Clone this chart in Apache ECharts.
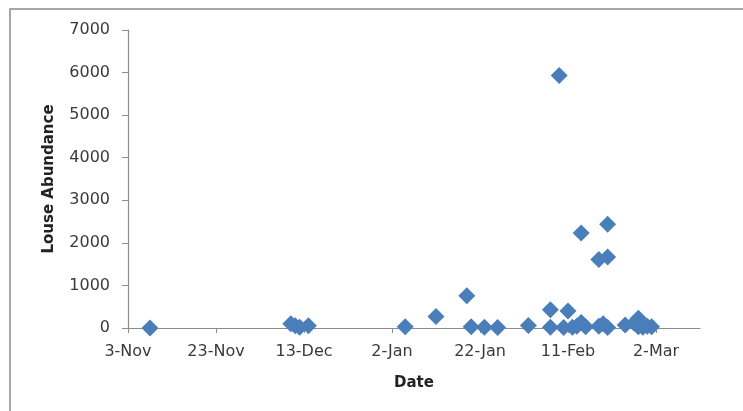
<!DOCTYPE html>
<html>
<head>
<meta charset="utf-8">
<script src="https://cdn.jsdelivr.net/npm/echarts@6/dist/echarts.min.js"></script>
<style>
  html, body { margin: 0; padding: 0; background: #fff; }
  #chart { width: 743px; height: 411px; }
</style>
</head>
<body>
<div id="chart"></div>
<script>
// sampling dates and louse counts
var startDate = '2010-11-03';
var sampleDates = [
  '2010-11-08',
  '2010-12-10', '2010-12-11', '2010-12-12', '2010-12-14',
  '2011-01-05', '2011-01-12', '2011-01-19', '2011-01-20', '2011-01-23', '2011-01-26',
  '2011-02-02', '2011-02-07', '2011-02-07', '2011-02-09', '2011-02-10', '2011-02-11',
  '2011-02-12', '2011-02-13', '2011-02-14', '2011-02-14', '2011-02-15',
  '2011-02-18', '2011-02-18', '2011-02-19', '2011-02-20', '2011-02-20', '2011-02-20',
  '2011-02-24', '2011-02-26', '2011-02-27', '2011-02-27', '2011-02-28', '2011-03-01', '2011-03-02'
];
var louseCounts = [
  0,
  100, 50, 20, 50,
  30, 270, 760, 30, 20, 10,
  60, 430, 20, 5930, 10, 400,
  20, 40, 2230, 130, 30,
  1610, 40, 100, 2440, 1670, 10,
  70, 120, 230, 30, 20, 40, 30
];
var tickLabels = ['3-Nov', '23-Nov', '13-Dec', '2-Jan', '22-Jan', '11-Feb', '2-Mar'];

var DAY = 24 * 3600 * 1000;
function dayOffset(d) {
  return Math.round((Date.parse(d) - Date.parse(startDate)) / DAY);
}

var points = sampleDates.map(function (d, i) {
  return [dayOffset(d), louseCounts[i]];
});

var chart = echarts.init(document.getElementById('chart'));
var axisColor = '#8c8c8c';
var textColor = '#3a3a3a';

chart.setOption({
  animation: false,
  textStyle: { fontFamily: 'DejaVu Sans' },
  graphic: [{
    type: 'rect',
    shape: { x: 10, y: 9, width: 800, height: 450 },
    style: { fill: 'none', stroke: '#8a8a8a', lineWidth: 1.5 },
    silent: true
  }],
  grid: { left: 128, right: 43, top: 30, bottom: 83 },
  xAxis: {
    type: 'value',
    min: 0,
    max: 130,
    interval: 20,
    name: 'Date',
    nameLocation: 'middle',
    nameGap: 48,
    nameTextStyle: { fontSize: 15, fontWeight: 'bold', color: '#222' },
    axisLine: { lineStyle: { color: axisColor, width: 1.2 } },
    axisTick: { show: true, length: 5, lineStyle: { color: axisColor } },
    splitLine: { show: false },
    axisLabel: {
      fontSize: 16,
      color: textColor,
      margin: 16,
      showMaxLabel: false,
      formatter: function (v) {
        return v % 20 === 0 ? (tickLabels[v / 20] || '') : '';
      }
    }
  },
  yAxis: {
    type: 'value',
    min: 0,
    max: 7000,
    interval: 1000,
    name: 'Louse Abundance',
    nameLocation: 'middle',
    nameGap: 71,
    nameTextStyle: { fontSize: 15, fontWeight: 'bold', color: '#222' },
    axisLine: { show: true, lineStyle: { color: axisColor, width: 1.2 } },
    axisTick: { show: true, length: 6, lineStyle: { color: axisColor } },
    splitLine: { show: false },
    axisLabel: {
      fontSize: 16,
      color: textColor,
      margin: 18,
      formatter: function (v) { return String(v); }
    }
  },
  series: [{
    type: 'scatter',
    data: points,
    symbol: 'diamond',
    symbolSize: 17,
    itemStyle: { color: '#4a7ebb', opacity: 1 }
  }]
});
</script>
</body>
</html>
